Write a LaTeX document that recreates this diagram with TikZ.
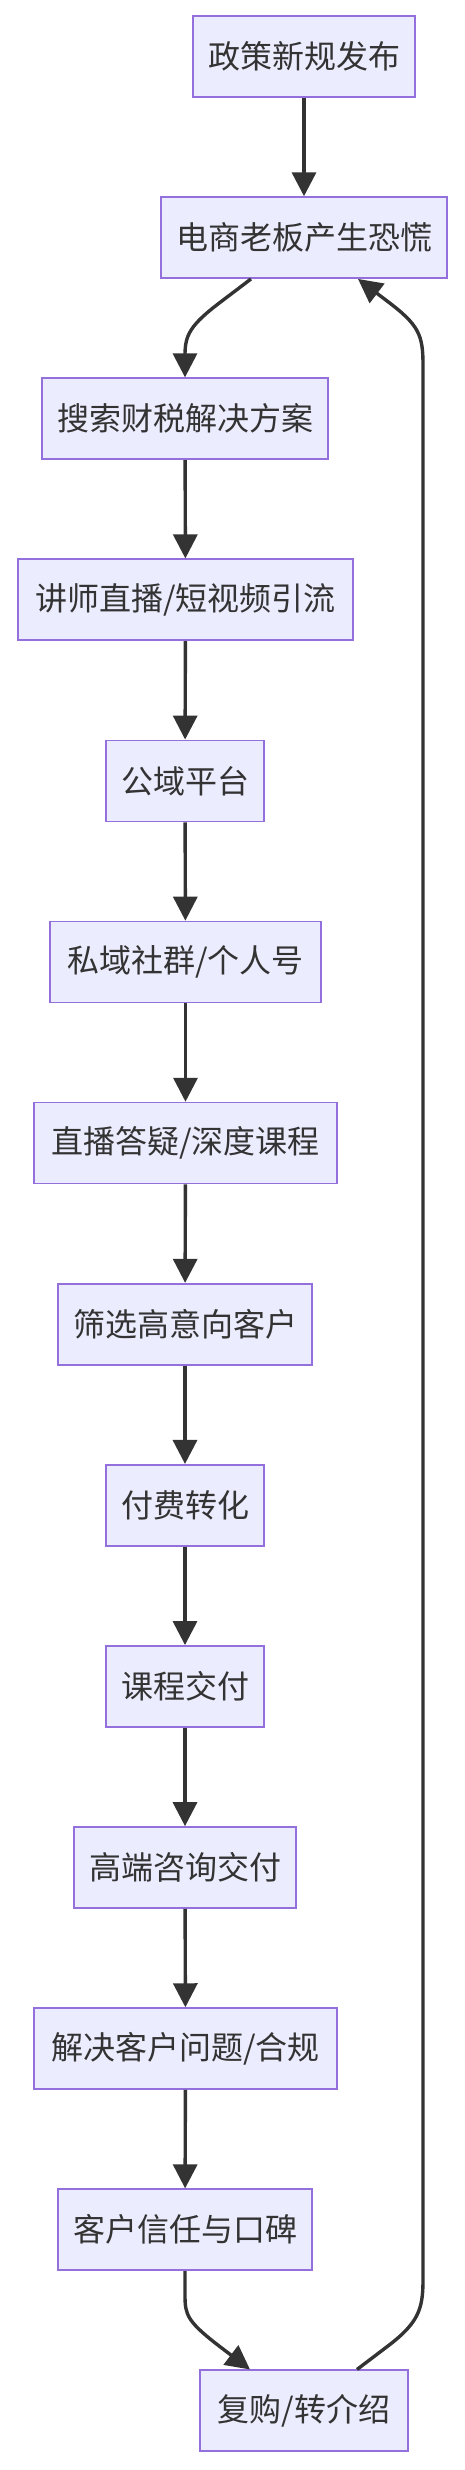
\documentclass[tikz,border=0pt]{standalone}
\usepackage{fontspec}
\setmainfont{Noto Sans CJK SC}
\usetikzlibrary{arrows.meta,calc}
\definecolor{boxfill}{HTML}{ECECFF}
\definecolor{boxline}{HTML}{9370DB}
\definecolor{ink}{HTML}{333333}
\tikzset{
  box/.style={draw=boxline, fill=boxfill, line width=1.7pt, rectangle,
    minimum height=81pt, inner sep=0pt, text=ink,
    font=\fontsize{32pt}{38pt}\selectfont},
  arr/.style={draw=ink, line width=3.4pt,
    -{Triangle[length=24pt,width=24pt]}}
}
\begin{document}
\begin{tikzpicture}[x=1pt,y=-1pt]
\useasboundingbox (0,0) rectangle (464,2470);
\def\gap{181.1}
\node[box, minimum width=222pt] (n1) at (304,56.5) {政策新规发布};
\node[box, minimum width=286pt] (n2) at (304,56.5+\gap) {电商老板产生恐慌};
\node[box, minimum width=286pt] (n3) at (185,56.5+2*\gap) {搜索财税解决方案};
\node[box, minimum width=335pt] (n4) at (185.5,56.5+3*\gap) {讲师直播/短视频引流};
\node[box, minimum width=158pt] (n5) at (185,56.5+4*\gap) {公域平台};
\node[box, minimum width=271pt] (n6) at (185.5,56.5+5*\gap) {私域社群/个人号};
\node[box, minimum width=303pt] (n7) at (185.5,56.5+6*\gap) {直播答疑/深度课程};
\node[box, minimum width=254pt] (n8) at (185,56.5+7*\gap) {筛选高意向客户};
\node[box, minimum width=158pt] (n9) at (185,56.5+8*\gap) {付费转化};
\node[box, minimum width=158pt] (n10) at (185,56.5+9*\gap) {课程交付};
\node[box, minimum width=222pt] (n11) at (185,56.5+10*\gap) {高端咨询交付};
\node[box, minimum width=303pt] (n12) at (185.5,56.5+11*\gap) {解决客户问题/合规};
\node[box, minimum width=254pt] (n13) at (185,56.5+12*\gap) {客户信任与口碑};
\node[box, minimum width=208pt] (n14) at (304,56.5+13*\gap) {复购/转介绍};

\draw[arr] (n1) -- (n2);
\draw[arr] ($(n2.south)+(-53,0)$) -- ++(-29,22)
  .. controls +(-32,24) and (185,335) .. (185,355) -- (n3.north);
\draw[arr] (n3) -- (n4);
\draw[arr] (n4) -- (n5);
\draw[arr] (n5) -- (n6);
\draw[arr] (n6) -- (n7);
\draw[arr] (n7) -- (n8);
\draw[arr] (n8) -- (n9);
\draw[arr] (n9) -- (n10);
\draw[arr] (n10) -- (n11);
\draw[arr] (n11) -- (n12);
\draw[arr] (n12) -- (n13);
\coordinate (c13) at ($(n13.south)+(0,24)$);
\coordinate (e14) at ($(n14.north)+(-54,0)$);
\draw[arr] (n13.south) -- (c13)
  .. controls +(0,20) and ($(e14)+(-63,-48)$) .. ($(e14)+(-29,-22)$) -- (e14);
\coordinate (s14) at ($(n14.north)+(53,0)$);
\coordinate (e2) at ($(n2.south)+(54,0)$);
\draw[arr] (s14) -- ++(29,-22)
  .. controls +(32,-24) and (423,2310) .. (423,2280)
  -- (423,365)
  .. controls (423,335) and ($(e2)+(61,46)$) .. ($(e2)+(29,22)$) -- (e2);
\end{tikzpicture}
\end{document}
